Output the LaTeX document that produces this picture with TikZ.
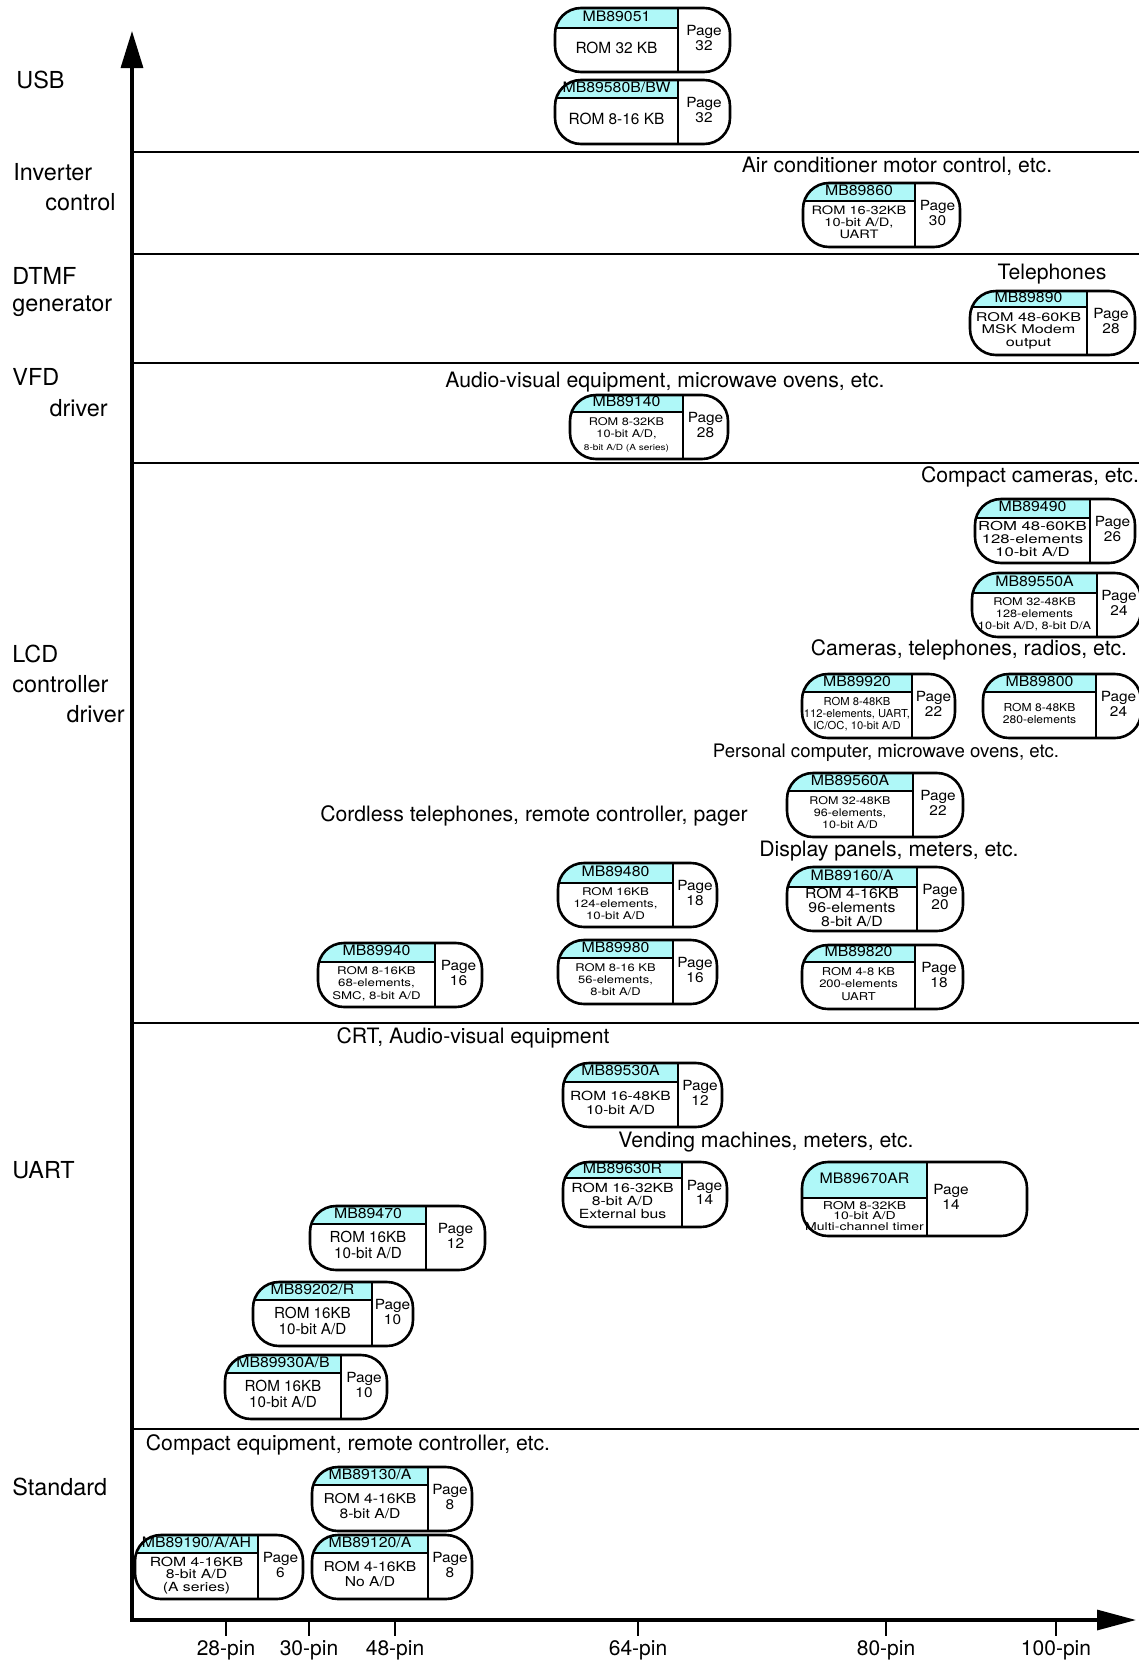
\documentclass[tikz,border=0pt]{standalone}
\usepackage{fontspec}
\setmainfont{TeX Gyre Heros}
\usepackage{graphicx}
\usetikzlibrary{arrows.meta,calc}
\definecolor{chipcyan}{RGB}{175,248,248}
% text block: size, skip, horizontal stretch, lines
\newcommand\wtext[4]{{\fontsize{#1}{#2}\selectfont\scalebox{#3}[1]{\begin{tabular}{@{}c@{}}#4\end{tabular}}}}
% chip box: name, top left, bottom right, divider x, band y, title, body, page, page options
\newcommand\chip[9]{%
  \coordinate (#1tl) at (#2);
  \coordinate (#1br) at (#3);
  \coordinate (#1cut) at (#4,#5);
  \begin{scope}
    \clip[rounded corners=13pt] (#1tl) rectangle (#1br);
    \fill[chipcyan] (#1tl) rectangle (#1cut);
    \draw[chipsep] (#1tl |- #1cut) -- (#1cut);
  \end{scope}
  \draw[chipsep] (#1cut |- #1tl) -- (#1cut |- #1br);
  \draw[chipedge] (#1tl) rectangle (#1br);
  \node[chiptext] (#1) at ($(#1tl)!0.5!(#1cut)$) {\wtext{7.2}{7.4}{1.1}{#6}};
  \node[chiptext] (#1b) at ($(#1tl |- #1cut)!0.5!(#1cut |- #1br)$) {#7};
  \node[chiptext,#9] (#1p) at ($(#1cut |- #1tl)!0.5!(#1br)$) {\wtext{7}{7.2}{1.1}{Page\\#8}};
}
\begin{document}
\begin{tikzpicture}[x=0.5pt,y=-0.5pt,
  chipedge/.style={line width=1.3pt,rounded corners=13pt},
  chipsep/.style={line width=1pt},
  chiptext/.style={inner sep=0pt},
  sepline/.style={line width=1.2pt},
  axisline/.style={line width=1.6pt,line cap=rect},
  sidelabel/.style={font=\fontsize{11.7}{14}\selectfont,inner sep=0pt},
  usetext/.style={font=\fontsize{10.6}{12}\selectfont,inner sep=0pt},
  pinlabel/.style={font=\fontsize{10.5}{12}\selectfont,inner sep=0pt,anchor=base}]
\useasboundingbox (0,0) rectangle (1139,1660);

% axes
\coordinate (corner) at (132,1620);
\coordinate (ytip) at (132,31);
\coordinate (xtip) at (1136,1620);
\draw[axisline,-{Triangle[length=18.5pt,width=11pt]}] (corner) -- (ytip);
\draw[axisline,-{Triangle[length=19.5pt,width=10pt]}] (corner) -- (xtip);
\foreach \x/\lab in {226/28-pin,309/30-pin,395/48-pin,638/64-pin,886/80-pin,1056/100-pin}{
  \draw[line width=1.3pt] (\x,1621) -- (\x,1636);
  \node[pinlabel] (pin\x) at (\x,1655) {\lab};
}

% section lines
\foreach \y in {152,254,363,463,1023,1429}
  \draw[sepline] (132,\y) -- (1139,\y);

% section names
\node[sidelabel,anchor=west] (usb) at (16,80) {USB};
\node[sidelabel,anchor=west] (inv) at (13,172) {Inverter};
\node[sidelabel,anchor=east] (invb) at (116,202) {control};
\node[sidelabel,anchor=west] (dtmf) at (12,276) {DTMF};
\node[sidelabel,anchor=west] (dtmfb) at (12,306) {generator};
\node[sidelabel,anchor=west] (vfd) at (12,377) {VFD};
\node[sidelabel,anchor=east] (vfdb) at (108,408) {driver};
\node[sidelabel,anchor=west] (lcd) at (12,654) {LCD};
\node[sidelabel,anchor=west] (lcdb) at (12,684) {controller};
\node[sidelabel,anchor=east] (lcdc) at (125,714) {driver};
\node[sidelabel,anchor=west] (uart) at (12,1170) {UART};
\node[sidelabel,anchor=west] (std) at (12,1487) {Standard};

% applications
\node[usetext] (aircon) at (897,166) {Air conditioner motor control, etc.};
\node[usetext] (phones) at (1052,274) {Telephones};
\node[usetext] (avmicro) at (665,382) {Audio-visual equipment, microwave ovens, etc.};
\node[usetext] (cameras) at (1030,477) {Compact cameras, etc.};
\node[usetext] (radios) at (969,650) {Cameras, telephones, radios, etc.};
\node[usetext,font=\fontsize{9.3}{11}\selectfont] (pcmicro) at (886,753) {Personal computer, microwave ovens, etc.};
\node[usetext] (cordless) at (534,816) {Cordless telephones, remote controller, pager};
\node[usetext] (panels) at (889,851) {Display panels, meters, etc.};
\node[usetext] (crt) at (473,1038) {CRT, Audio-visual equipment};
\node[usetext] (vending) at (766,1142) {Vending machines, meters, etc.};
\node[usetext] (compact) at (348,1445) {Compact equipment, remote controller, etc.};

% USB
\chip{m89051}{555,8}{730,72}{678}{28}{MB89051}{\wtext{7.7}{8}{1}{ROM 32 KB}}{32}{}
\chip{m89580}{555,80}{730,144}{678}{98}{MB89580B/BW}{\wtext{7.7}{8}{1}{ROM 8-16 KB}}{32}{}
% inverter, DTMF, VFD
\chip{m89860}{803,183}{960,247}{915}{201}{MB89860}{\wtext{5.8}{6.2}{1.26}{ROM 16-32KB\\10-bit A/D,\\UART}}{30}{}
\chip{m89890}{970,291}{1135,355}{1087}{307}{MB89890}{\wtext{6}{6.2}{1.35}{ROM 48-60KB\\MSK Modem\\output}}{28}{}
\chip{m89140}{570,395}{728,459}{683}{412}{MB89140}{\wtext{5.3}{6.2}{1.2}{ROM 8-32KB\\10-bit A/D,\\{\fontsize{4.2}{6.2}\selectfont 8-bit A/D (A series)}}}{28}{}
% LCD
\chip{m89490}{975,499}{1135,563}{1090}{518}{MB89490}{\wtext{6.2}{6.2}{1.35}{ROM 48-60KB\\128-elements\\10-bit A/D}}{26}{}
\chip{m89550}{972,573}{1141,637}{1097}{593}{MB89550A}{\wtext{5.3}{6.2}{1.2}{ROM 32-48KB\\128-elements\\10-bit A/D, 8-bit D/A}}{24}{}
\chip{m89920}{802,674}{955,738}{912}{692}{MB89920}{\wtext{5.5}{6.2}{1.02}{ROM 8-48KB\\112-elements, UART,\\IC/OC, 10-bit A/D}}{22}{}
\chip{m89800}{983,674}{1141,738}{1096}{692}{MB89800}{\wtext{5.5}{6.4}{1.1}{ROM 8-48KB\\280-elements}}{24}{}
\chip{m89560}{787,773}{963,837}{913}{791}{MB89560A}{\wtext{5.3}{6.2}{1.18}{ROM 32-48KB\\96-elements,\\10-bit A/D}}{22}{}
\chip{m89160}{787,867}{963,931}{917}{887}{MB89160/A}{\wtext{7}{6.5}{1.13}{ROM 4-16KB\\96-elements\\8-bit A/D}}{20}{}
\chip{m89820}{802,945}{963,1009}{915}{962}{MB89820}{\wtext{5.4}{6.2}{1.2}{ROM 4-8 KB\\200-elements\\UART}}{18}{}
\chip{m89480}{558,863}{717,927}{673}{883}{MB89480}{\wtext{5.3}{6.2}{1.25}{ROM 16KB\\124-elements,\\10-bit A/D}}{18}{}
\chip{m89980}{558,940}{717,1004}{673}{958}{MB89980}{\wtext{5.3}{6.2}{1.22}{ROM 8-16 KB\\56-elements,\\8-bit A/D}}{16}{}
\chip{m89940}{318,943}{482,1007}{435}{962}{MB89940}{\wtext{5.3}{6.2}{1.25}{ROM 8-16KB\\68-elements,\\SMC, 8-bit A/D}}{16}{}
% UART
\chip{m89530}{563,1063}{722,1127}{678}{1082}{MB89530A}{\wtext{6.3}{7}{1.23}{ROM 16-48KB\\10-bit A/D}}{12}{}
\chip{m89630}{563,1162}{727,1227}{682}{1178}{MB89630R}{\wtext{6.3}{6}{1.25}{ROM 16-32KB\\8-bit A/D\\External bus}}{14}{}
\chip{m89670}{802,1162}{1027,1236}{927}{1198}{MB89670AR}{\wtext{5.4}{4.6}{1.3}{ROM 8-32KB\\10-bit A/D\\Multi-channel timer}}{14}{xshift=-13pt}
\chip{m89470}{310,1206}{485,1270}{426}{1224}{MB89470}{\wtext{7.6}{7.5}{1}{ROM 16KB\\10-bit A/D}}{12}{}
\chip{m89202}{253,1282}{413,1346}{372}{1300}{MB89202/R}{\wtext{7.6}{7.5}{1}{ROM 16KB\\10-bit A/D}}{10}{}
\chip{m89930}{225,1355}{387,1419}{341}{1373}{MB89930A/B}{\wtext{7.6}{7.5}{1}{ROM 16KB\\10-bit A/D}}{10}{}
% standard
\chip{m89130}{312,1467}{472,1531}{428}{1485}{MB89130/A}{\wtext{6.8}{7.8}{1.15}{ROM 4-16KB\\8-bit A/D}}{8}{}
\chip{m89120}{312,1535}{472,1599}{428}{1553}{MB89120/A}{\wtext{6.8}{7.8}{1.15}{ROM 4-16KB\\No A/D}}{8}{}
\chip{m89190}{135,1535}{303,1599}{258}{1553}{MB89190/A/AH}{\wtext{6.3}{6.1}{1.25}{ROM 4-16KB\\8-bit A/D\\(A series)}}{6}{}
\end{tikzpicture}
\end{document}
